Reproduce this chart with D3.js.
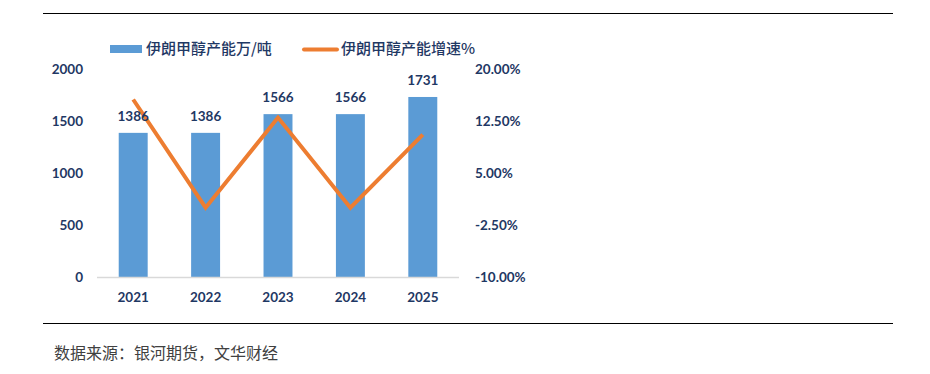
<!DOCTYPE html>
<html>
<head>
<meta charset="utf-8">
<script src="https://cdn.jsdelivr.net/npm/d3@7"></script>
<style>
  body { margin: 0; background: #fff; }
  svg text { font-family: "Lato", "Noto Sans CJK SC", sans-serif; }
  .num { font-weight: 700; font-size: 13.5px; fill: #1f3864; }
  .legend-text { font-family: "Noto Sans CJK SC", sans-serif; font-size: 15px; font-weight: 500; fill: #1f3864; }
  .source { font-family: "Noto Sans CJK SC", sans-serif; font-size: 16px; fill: #404040; }
</style>
</head>
<body>
<div id="wrapper"></div>
<script>
// data
const years = ["2021", "2022", "2023", "2024", "2025"]
const capacity = [1386, 1386, 1566, 1566, 1731]
const growth = [15.6, 0, 12.99, 0, 10.54]
const leftTicks = [0, 500, 1000, 1500, 2000]
const rightTicks = [-10, -2.5, 5, 12.5, 20]

const width = 930
const height = 374

const svg = d3.select("#wrapper")
    .append("svg")
    .attr("width", width)
    .attr("height", height)

// frame lines
svg.append("line")
    .attr("x1", 43).attr("x2", 893)
    .attr("y1", 13.5).attr("y2", 13.5)
    .attr("stroke", "#000").attr("stroke-width", 1)
svg.append("line")
    .attr("x1", 43).attr("x2", 893)
    .attr("y1", 323.5).attr("y2", 323.5)
    .attr("stroke", "#000").attr("stroke-width", 1)

// scales
const x = d3.scaleBand()
    .domain(years)
    .range([97, 459])
    .paddingInner(0.6)
    .paddingOuter(0.3)

const yLeft = d3.scaleLinear()
    .domain([0, 2000])
    .range([277, 69])

const yRight = d3.scaleLinear()
    .domain([-10, 20])
    .range([277, 69])

// bars
svg.selectAll(".bar")
    .data(capacity)
    .join("rect")
    .attr("class", "bar")
    .attr("x", (d, i) => x(years[i]))
    .attr("y", d => yLeft(d))
    .attr("width", x.bandwidth())
    .attr("height", d => yLeft(0) - yLeft(d))
    .attr("fill", "#5b9bd5")

// baseline
svg.append("line")
    .attr("x1", 97).attr("x2", 459)
    .attr("y1", 277.5).attr("y2", 277.5)
    .attr("stroke", "#d9d9d9").attr("stroke-width", 1.5)

// growth line
const line = d3.line()
    .x((d, i) => x(years[i]) + x.bandwidth() / 2)
    .y(d => yRight(d))

svg.append("path")
    .datum(growth)
    .attr("d", line)
    .attr("fill", "none")
    .attr("stroke", "#ed7d31")
    .attr("stroke-width", 4)
    .attr("stroke-linejoin", "miter")

// bar value labels
svg.selectAll(".bar-label")
    .data(capacity)
    .join("text")
    .attr("class", "num")
    .attr("x", (d, i) => x(years[i]) + x.bandwidth() / 2)
    .attr("y", d => yLeft(d) - 12)
    .attr("text-anchor", "middle")
    .text(d => d)

// left axis
const leftAxis = d3.axisLeft(yLeft)
    .tickValues(leftTicks)
    .tickSize(0)
    .tickPadding(0)
    .tickFormat(d => String(d))
const leftG = svg.append("g")
    .attr("transform", "translate(83,0)")
    .call(leftAxis)
leftG.select(".domain").remove()
leftG.selectAll("text").attr("class", "num").attr("font-family", null).attr("font-size", null).attr("fill", null)

// right axis
const rightAxis = d3.axisRight(yRight)
    .tickValues(rightTicks)
    .tickSize(0)
    .tickPadding(0)
    .tickFormat(d => d.toFixed(2) + "%")
const rightG = svg.append("g")
    .attr("transform", "translate(475,0)")
    .call(rightAxis)
rightG.select(".domain").remove()
rightG.selectAll("text").attr("class", "num").attr("font-family", null).attr("font-size", null).attr("fill", null)

// x axis
const xAxis = d3.axisBottom(x).tickSize(0).tickPadding(0)
const xG = svg.append("g")
    .attr("transform", "translate(0,292)")
    .call(xAxis)
xG.select(".domain").remove()
xG.selectAll("text").attr("class", "num").attr("font-family", null).attr("font-size", null).attr("fill", null)

// legend
const legend = svg.append("g")
legend.append("rect")
    .attr("x", 110).attr("y", 45)
    .attr("width", 32).attr("height", 8)
    .attr("fill", "#5b9bd5")
legend.append("text")
    .attr("class", "legend-text")
    .attr("x", 146).attr("y", 54)
    .text("伊朗甲醇产能万/吨")
legend.append("line")
    .attr("x1", 304).attr("x2", 337)
    .attr("y1", 49.5).attr("y2", 49.5)
    .attr("stroke", "#ed7d31").attr("stroke-width", 4)
    .attr("stroke-linecap", "round")
legend.append("text")
    .attr("class", "legend-text")
    .attr("x", 341).attr("y", 54)
    .text("伊朗甲醇产能增速%")

// source
svg.append("text")
    .attr("class", "source")
    .attr("x", 54).attr("y", 359)
    .text("数据来源：银河期货，文华财经")
</script>
</body>
</html>
